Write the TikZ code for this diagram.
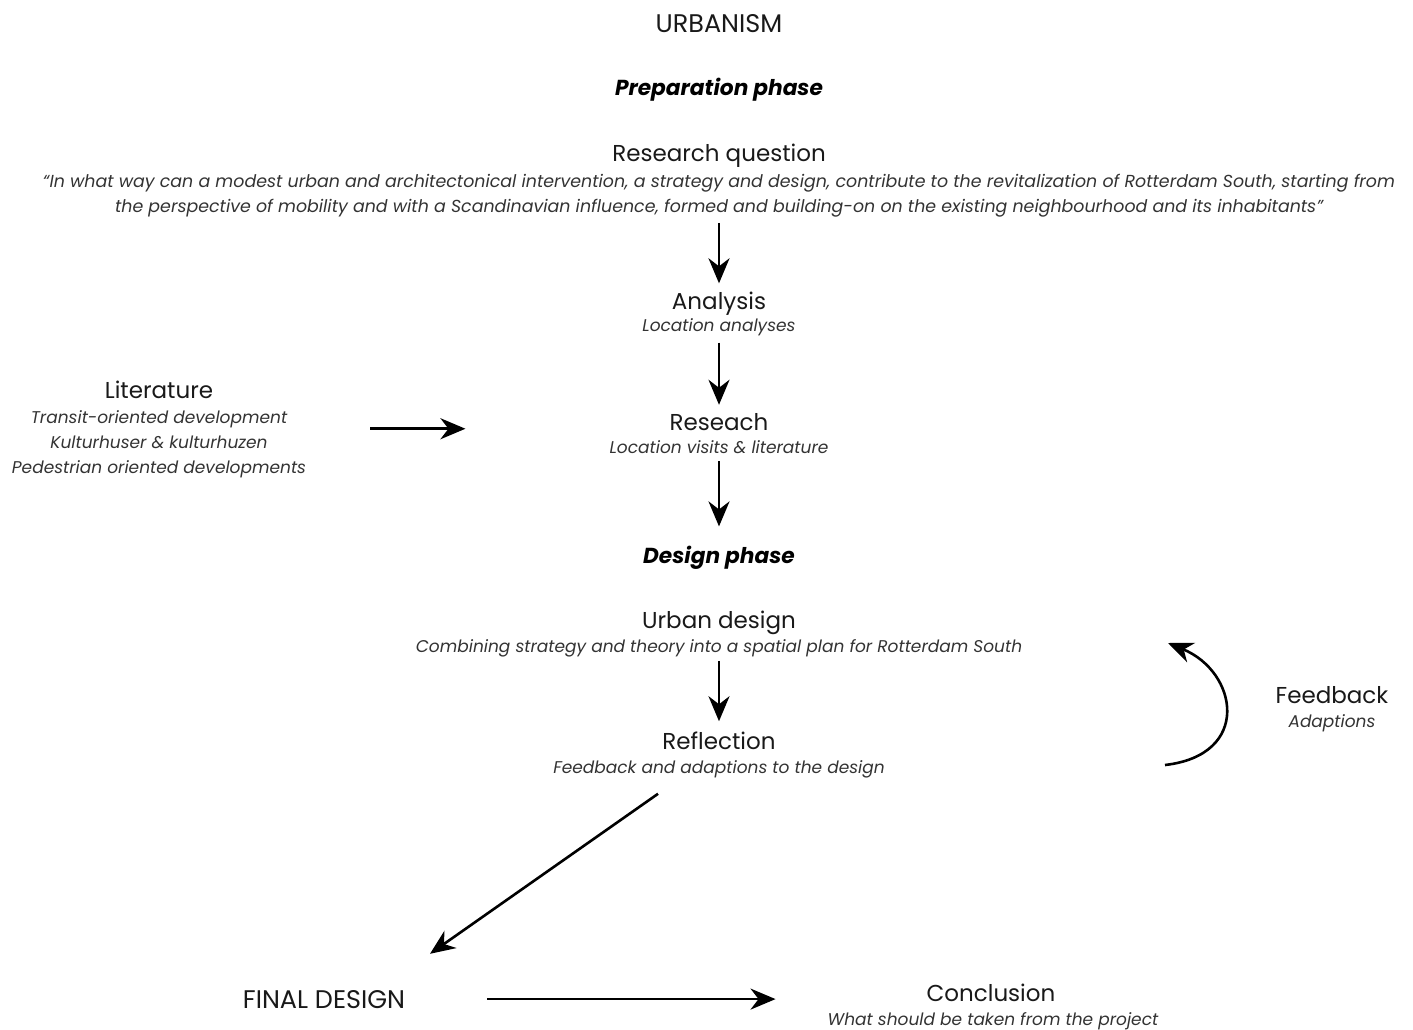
\documentclass[tikz,border=0pt]{standalone}
\usepackage{fontspec}
\setmainfont{Poppins}
\usetikzlibrary{arrows.meta, positioning}
\tikzset{
  head/.style  = {inner sep=0pt, anchor=base, font=\fontsize{23}{27}\selectfont, text=black!90},
  caps/.style  = {head, font=\fontsize{25.5}{29}\selectfont},
  phase/.style = {inner sep=0pt, anchor=base, font=\fontsize{21.7}{25}\selectfont\bfseries\itshape},
  sub/.style   = {inner sep=0pt, anchor=base, align=center,
    font=\fontsize{17}{25}\selectfont\itshape, text=black!80},
  arrow/.style = {line width=2.6pt, -{Stealth[length=25pt,width=21pt,inset=8pt]}},
}

\begin{document}
\begin{tikzpicture}[x=1pt, y=1pt]
  \useasboundingbox (0,0) rectangle (1413,-1030);

  \node[caps] (urb)  at (719,-33)  {URBANISM};
  \node[phase] (prep) at (719,-96) {Preparation phase};

  \node[head] (rq)   at (719,-161) {Research question};
  \node[sub, font=\fontsize{17.4}{25}\selectfont\itshape] (rqs) at (719,-212) {``In what way can a modest urban and architectonical intervention, a strategy and design, contribute to the revitalization of Rotterdam South, starting from\\the perspective of mobility and with a Scandinavian influence, formed and building-on on the existing neighbourhood and its inhabitants''};

  \node[head] (ana)  at (719,-309) {Analysis};
  \node[sub]  (anas) at (719,-331) {Location analyses};

  \node[head] (lit)  at (159,-398) {Literature};
  \node[sub]  (lits) at (159,-473) {Transit-oriented development\\Kulturhuser \& kulturhuzen\\Pedestrian oriented developments};

  \node[head] (res)  at (719,-430) {Reseach};
  \node[sub]  (ress) at (719,-453) {Location visits \& literature};

  \node[phase] (des) at (719,-563) {Design phase};

  \node[head] (urd)  at (719,-628) {Urban design};
  \node[sub]  (urds) at (719,-652) {Combining strategy and theory into a spatial plan for Rotterdam South};

  \node[head] (ref)  at (719,-749) {Reflection};
  \node[sub]  (refs) at (719,-773) {Feedback and adaptions to the design};

  \node[head] (fb)   at (1332,-703) {Feedback};
  \node[sub]  (fbs)  at (1332,-727) {Adaptions};

  \node[caps] (fin)  at (324,-1008) {FINAL DESIGN};
  \node[head] (con)  at (991,-1001) {Conclusion};
  \node[sub]  (cons) at (993,-1025) {What should be taken from the project};

  \coordinate (fbfrom) at (1165,-765);
  \coordinate (fbto)   at (1168,-643);

  % preparation
  \draw[arrow, shorten <=6pt, shorten >=8pt] (rqs) -- (ana);
  \draw[arrow, shorten <=7pt, shorten >=8pt] (anas) -- (res);
  \draw[arrow, shorten <=64pt, shorten >=204pt] ([yshift=15pt]lits.east) -- ([yshift=15pt]lits.east -| res.west);
  \draw[arrow, shorten <=8pt, shorten >=19pt] (ress) -- (des);

  % design
  \draw[arrow, shorten <=4pt, shorten >=10pt] (urds) -- (ref);
  \draw[arrow] (fbfrom) .. controls (1252,-755) and (1238,-672) .. (fbto);
  \draw[arrow] ([xshift=-61pt, yshift=-16pt]refs.south) -- ([xshift=106pt, yshift=36pt]fin.north);
  \draw[arrow, shorten <=82pt, shorten >=52pt] (fin.east) -- (fin.east -| cons.west);
\end{tikzpicture}
\end{document}
